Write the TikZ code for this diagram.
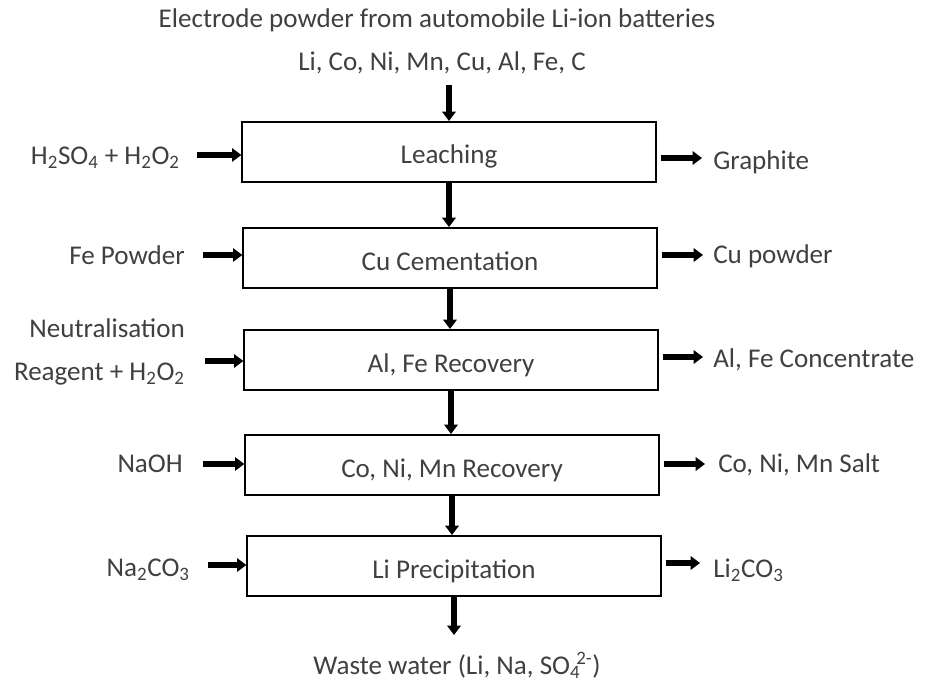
\documentclass[tikz,border=0pt]{standalone}
\usepackage{fontspec}
\setmainfont{Carlito}
\usetikzlibrary{arrows.meta}
\definecolor{txt}{HTML}{404040}
\tikzset{
  px/.style={x=0.75pt,y=-0.75pt},
  stage/.style={draw=black,line width=1.5pt,minimum width=310pt,minimum height=45pt,inner sep=0pt,text=txt,text height=21pt,text depth=3pt},
  lbl/.style={text=txt,inner sep=0pt},
  flow/.style={line width=4.3pt,-{Triangle[length=7pt,width=10pt]}},
}
\begin{document}
\begin{tikzpicture}[px,font=\fontsize{20.3}{24}\selectfont]
\useasboundingbox (0,0) rectangle (928,688);
\node[lbl] (title) at (437,20) {Electrode powder from automobile Li-ion batteries};
\node[lbl] (elems) at (442,63) {Li, Co, Ni, Mn, Cu, Al, Fe, C};
\coordinate (top) at (449,85);

\node[stage] (b1) at (449,152) {Leaching};
\node[stage] (b2) at (450,258) {Cu Cementation};
\node[stage] (b3) at (451,360) {Al, Fe Recovery};
\node[stage] (b4) at (452,465) {Co, Ni, Mn Recovery};
\node[stage] (b5) at (454,566) {Li Precipitation};

\node[lbl] (waste) at (457,665) {Waste water (Li, Na, SO\textsubscript{4}\kern-0.15em\textsuperscript{2-})};

% left labels
\node[lbl,anchor=east] (l1) at (180,158) {H\textsubscript{2}SO\textsubscript{4} + H\textsubscript{2}O\textsubscript{2}};
\node[lbl,anchor=east] (l2) at (185,255) {Fe Powder};
\node[lbl,anchor=east,align=right] (l3) at (185,352) {Neutralisation\\[8pt]Reagent + H\textsubscript{2}O\textsubscript{2}};
\node[lbl,anchor=east] (l4) at (183,464) {NaOH};
\node[lbl,anchor=east] (l5) at (190,570) {Na\textsubscript{2}CO\textsubscript{3}};

% right labels
\node[lbl,anchor=west] (r1) at (713,162) {Graphite};
\node[lbl,anchor=west] (r2) at (713,256) {Cu powder};
\node[lbl,anchor=west] (r3) at (713,360) {Al, Fe Concentrate};
\node[lbl,anchor=west] (r4) at (718,465) {Co, Ni, Mn Salt};
\node[lbl,anchor=west] (r5) at (713,570) {Li\textsubscript{2}CO\textsubscript{3}};

% arrow end coordinates
\coordinate (la1) at (197,155);
\coordinate (la2) at (203,255);
\coordinate (la3) at (205,361);
\coordinate (la4) at (203,464);
\coordinate (la5) at (208,565);
\coordinate (ra1) at (702,158);
\coordinate (ra2) at (703,255);
\coordinate (ra3) at (703,357);
\coordinate (ra4) at (705,464);
\coordinate (ra5) at (700,563);

% vertical flow
\draw[flow] (top) -- (b1.north);
\draw[flow] (b1.south) -- (b1.south |- b2.north);
\draw[flow] (b2.south) -- (b2.south |- b3.north);
\draw[flow] (b3.south) -- (b3.south |- b4.north);
\draw[flow] (b4.south) -- (b4.south |- b5.north);
\draw[flow] (b5.south) -- ++(0,38) coordinate (wend);

% inputs
\draw[flow] (la1) -- (la1 -| b1.west);
\draw[flow] (la2) -- (la2 -| b2.west);
\draw[flow] (la3) -- (la3 -| b3.west);
\draw[flow] (la4) -- (la4 -| b4.west);
\draw[flow] (la5) -- (la5 -| b5.west);

% outputs
\draw[flow] (ra1 -| b1.east) ++(4,0) -- (ra1);
\draw[flow] (ra2 -| b2.east) ++(4,0) -- (ra2);
\draw[flow] (ra3 -| b3.east) ++(4,0) -- (ra3);
\draw[flow] (ra4 -| b4.east) ++(4,0) -- (ra4);
\draw[flow] (ra5 -| b5.east) ++(4,0) -- (ra5);
\end{tikzpicture}
\end{document}
